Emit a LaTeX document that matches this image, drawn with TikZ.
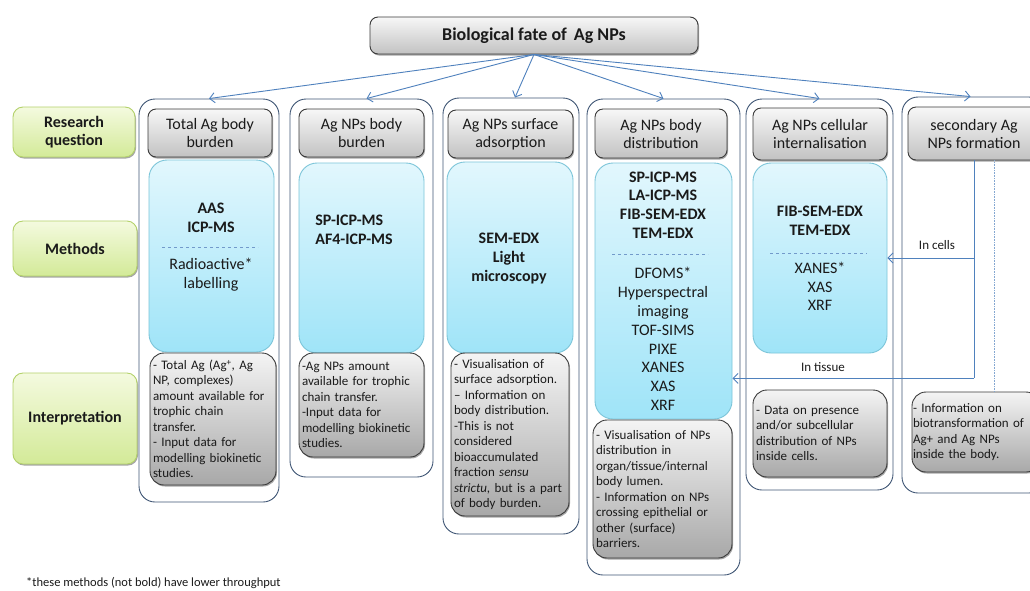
\documentclass[tikz,border=0pt]{standalone}
\usepackage{fontspec}
\setmainfont{Carlito}
\usetikzlibrary{arrows.meta,shadows,calc}
\definecolor{gtop}{HTML}{F7F7F7}
\definecolor{gbot}{HTML}{C2C2C2}
\definecolor{itop}{HTML}{F4F4F4}
\definecolor{ibot}{HTML}{A8A8A8}
\definecolor{gline}{HTML}{3A3A3A}
\definecolor{btop}{HTML}{E2F7FD}
\definecolor{bbot}{HTML}{9FE4F8}
\definecolor{bline}{HTML}{7CC5D9}
\definecolor{ltop}{HTML}{F4FADF}
\definecolor{lbot}{HTML}{D3EA98}
\definecolor{lline}{HTML}{B3D16A}
\definecolor{frameline}{HTML}{3F5675}
\definecolor{arrowblue}{HTML}{4F81BD}
\definecolor{txt}{HTML}{1A1A1A}
\newcommand\fhead{\fontsize{16}{18}\selectfont}
\newcommand\ftitle{\fontsize{18}{20}\selectfont}
\newcommand\fmeth{\fontsize{16}{18.8}\selectfont}
\newcommand\fintp{\fontsize{13}{15.5}\selectfont}
\newcommand\fsmall{\fontsize{13}{15}\selectfont}
\tikzset{
  sz/.style n args={2}{minimum width=#1pt, minimum height=#2pt},
  shad/.style={drop shadow={shadow xshift=1pt, shadow yshift=-1.5pt, opacity=0.35, fill=black}},
  titlebox/.style={draw=gline, line width=0.9pt, rounded corners=8pt, top color=gtop, bottom color=gbot, shad, inner sep=0pt, align=center, text=txt, font=\ftitle\bfseries},
  headbox/.style={draw=gline, line width=0.9pt, rounded corners=8pt, top color=gtop, bottom color=gbot, shad, inner sep=0pt, align=center, text=txt, font=\fhead},
  labelbox/.style={draw=lline, line width=0.9pt, rounded corners=10pt, top color=ltop, bottom color=lbot, shad, inner sep=0pt, align=center, text=txt, font=\fhead\bfseries},
  methbox/.style={draw=bline, line width=0.9pt, rounded corners=18pt, top color=btop, bottom color=bbot, inner sep=0pt},
  intbox/.style={draw=gline, line width=0.9pt, rounded corners=14pt, top color=itop, bottom color=ibot, shad, inner sep=4pt, align=left, text=txt, font=\fintp},
  framebox/.style={draw=frameline, line width=0.9pt, rounded corners=16pt, inner sep=0pt},
  mtext/.style={align=center, text=txt, font=\fmeth, inner sep=0pt},
  mbold/.style={align=center, text=txt, font=\fmeth\bfseries, inner sep=0pt},
  dsep/.style={draw=arrowblue!80, dashed, line width=0.8pt},
  conn/.style={draw=arrowblue, line width=0.9pt, -{Straight Barb[length=5pt,width=10pt]}},
  plainconn/.style={draw=arrowblue, line width=0.9pt},
  smalltext/.style={text=txt, font=\fsmall, inner sep=0pt}
}
\begin{document}
\begin{tikzpicture}[x=1pt,y=-1pt]
\useasboundingbox (0,0) rectangle (1030,590);
\clip (0,0) rectangle (1030,590);
\fill[white] (0,0) rectangle (1030,590);

% frames
\node[framebox, sz={140}{403}] (f1) at (209,300.5) {};
\node[framebox, sz={143}{378}] (f2) at (361.5,288) {};
\node[framebox, sz={136}{436}] (f3) at (511,316) {};
\node[framebox, sz={153}{476}] (f4) at (663.5,337) {};
\node[framebox, sz={147}{391}] (f5) at (819.5,294.5) {};
\node[framebox, sz={143}{396}] (f6) at (973.5,295) {};

% title
\node[titlebox, sz={328}{37}] (title) at (534,35.5) {Biological fate of\, Ag NPs};

% left labels
\node[labelbox, sz={122}{50}] (rq) at (74,132) {Research\\question};
\node[labelbox, sz={124}{55}] (meth) at (75,248.5) {Methods};
\node[labelbox, sz={124}{91}] (interp) at (75,418.5) {Interpretation};

% headers
\node[headbox, sz={124}{48}] (h1) at (210,133) {Total Ag body\\burden};
\node[headbox, sz={125}{48}] (h2) at (361.5,133) {Ag NPs body\\burden};
\node[headbox, sz={125}{48}] (h3) at (510.5,134) {Ag NPs surface\\adsorption};
\node[headbox, sz={132}{49}] (h4) at (661,133.5) {Ag NPs body\\distribution};
\node[headbox, sz={134}{52}] (h5) at (820,134) {Ag NPs cellular\\internalisation};
\node[headbox, sz={132}{53}] (h6) at (974,133.5) {secondary Ag\\NPs formation};

% method boxes
\node[methbox, sz={125}{192}] (m1) at (211.5,256) {};
\node[methbox, sz={125}{190}] (m2) at (361.5,258) {};
\node[methbox, sz={126}{191}] (m3) at (510,257.5) {};
\node[methbox, sz={137}{256}] (m4) at (663.5,291) {};
\node[methbox, sz={134}{190}] (m5) at (820,258) {};

% method texts
\node[mbold] (m1a) at (211,217.5) {AAS\\ICP-MS};
\coordinate (d1l) at (162,247); \coordinate (d1r) at (258,247);
\draw[dsep] (d1l) -- (d1r);
\node[mtext] (m1b) at (211,275) {Radioactive*\\labelling};

\node[mbold, align=left] (m2a) at (354,230) {SP-ICP-MS\\AF4-ICP-MS};

\node[mbold] (m3a) at (509,258.5) {SEM-EDX\\Light\\microscopy};

\node[mbold] (m4a) at (663,205) {SP-ICP-MS\\LA-ICP-MS\\FIB-SEM-EDX\\TEM-EDX};
\coordinate (d4l) at (612,254); \coordinate (d4r) at (708,254);
\draw[dsep] (d4l) -- (d4r);
\node[mtext] (m4b) at (663,339) {DFOMS*\\Hyperspectral\\imaging\\TOF-SIMS\\PIXE\\XANES\\XAS\\XRF};

\node[mbold] (m5a) at (820,220.5) {FIB-SEM-EDX\\TEM-EDX};
\coordinate (d5l) at (770,253); \coordinate (d5r) at (867,253);
\draw[dsep] (d5l) -- (d5r);
\node[mtext] (m5b) at (820,286.5) {XANES*\\XAS\\XRF};

% interpretation boxes
\node[intbox, sz={126}{132}, text width=120pt, inner sep=3pt] (i1) at (213,419) {- Total Ag (Ag\textsuperscript{+}, Ag\\NP, complexes)\\amount available for\\trophic chain\\transfer.\\- Input data for\\modelling biokinetic\\studies.};
\node[intbox, sz={125}{104}, text width=119pt, inner sep=3pt] (i2) at (361.5,405) {-Ag NPs amount\\available for trophic\\chain transfer.\\-Input data for\\modelling biokinetic\\studies.};
\node[intbox, sz={118}{163}, text width=112pt, inner sep=3pt] (i3) at (510,434.5) {- Visualisation of\\surface adsorption.\\– Information on\\body distribution.\\-This is not\\considered\\bioaccumulated\\fraction \textit{sensu}\\\textit{strictu,} but is a part\\of body burden.};
\node[intbox, sz={139}{138}, text width=133pt, inner sep=3pt] (i4) at (662.5,489) {- Visualisation of NPs\\distribution in\\organ/tissue/internal\\body lumen.\\- Information on NPs\\crossing epithelial or\\other (surface)\\barriers.};
\node[intbox, sz={134}{87}, text width=128pt, inner sep=3pt] (i5) at (820,433.5) {- Data on presence\\and/or subcellular\\distribution of NPs\\inside cells.};
\node[intbox, sz={128}{80}, text width=126pt, inner sep=1pt] (i6) at (976,432) {- Information on\\biotransformation of\\Ag+ and Ag NPs\\inside the body.};

% arrows from title
\draw[conn] (title.south) -- (f1.north);
\draw[conn] (title.south) -- ($(f2.north)+(5,0)$);
\draw[conn] (title.south) -- ($(f3.north)+(4,0)$);
\draw[conn] (title.south) -- (f4.north);
\draw[conn] (title.south) -- (f5.north);
\draw[conn] (title.south) -- ($(f6.north)+(-3,0)$);

% secondary formation connectors
\coordinate (tj) at ($(h6.south)+(0,218)$);
\draw[plainconn] (h6.south) -- (tj);
\draw[conn] (h6.south |- m5.east) -- (m5.east);
\draw[conn] (tj) -- (tj -| m4.east);
\coordinate (dt) at ($(h6.south)+(20,0)$);
\draw[draw=arrowblue!70, line width=0.6pt, densely dotted] (dt) -- (dt |- i6.north);
\node[smalltext] (lc) at (937,245) {In cells};
\node[smalltext] (lt) at (823,367) {In tissue};

% footnote
\node[smalltext, anchor=west, font=\fontsize{12.5}{14}\selectfont] (fn) at (26,583) {*these methods (not bold) have lower throughput};
\end{tikzpicture}
\end{document}
